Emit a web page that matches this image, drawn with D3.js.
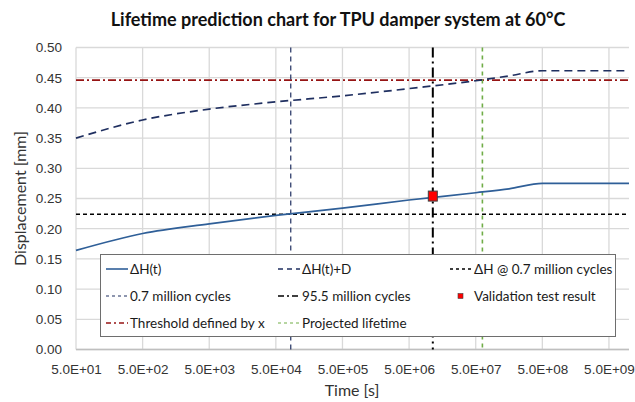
<!DOCTYPE html>
<html>
<head>
<meta charset="utf-8">
<script src="https://cdn.jsdelivr.net/npm/d3@7"></script>
<style>
  body { margin: 0; background: #fff; }
  svg { display: block; font-family: Lato, "Open Sans", sans-serif; }
</style>
</head>
<body>
<script>
// ---- data ----
const timeS      = [50, 500, 5000, 50000, 500000, 5e6, 5e7, 1.58e8, 5e8, 1e10];
const deltaH     = [0.164, 0.192, 0.208, 0.222, 0.234, 0.2475, 0.2595, 0.266, 0.2752, 0.2752];
const deltaHPlusD= [0.350, 0.380, 0.398, 0.410, 0.420, 0.432, 0.445, 0.453, 0.4615, 0.4615];
const dH07 = 0.224;          // ΔH @ 0.7 million cycles
const threshold = 0.446;     // threshold defined by x
const t07 = 83700;           // 0.7 million cycles [s]
const t955 = 1.135e7;        // 95.5 million cycles [s]
const tLife = 6.3e7;         // projected lifetime [s]
const validation = [{t: 1.135e7, v: 0.254}];
const xTicks = [5e1, 5e2, 5e3, 5e4, 5e5, 5e6, 5e7, 5e8, 5e9];
const yTicks = [0, 0.05, 0.10, 0.15, 0.20, 0.25, 0.30, 0.35, 0.40, 0.45, 0.50];

const W = 635, H = 402;
const m = {left: 76, right: 6, top: 47.5, bottom: 52.5};

const svg = d3.select('body').append('svg')
  .attr('width', W).attr('height', H);

const x = d3.scaleLog().domain([50, 1e10]).range([m.left, W - m.right]);
const y = d3.scaleLinear().domain([0, 0.5]).range([H - m.bottom, m.top]);

const fmtE = d => {
  const e = Math.floor(Math.log10(d) + 1e-9);
  const mant = d / Math.pow(10, e);
  return mant.toFixed(1) + 'E+' + String(e).padStart(2, '0');
};

// grid
svg.append('g').selectAll('line').data(yTicks).enter().append('line')
  .attr('x1', m.left).attr('x2', W - m.right)
  .attr('y1', d => y(d)).attr('y2', d => y(d))
  .attr('stroke', '#d9d9d9').attr('stroke-width', 1.3);
svg.append('g').selectAll('line').data(xTicks).enter().append('line')
  .attr('x1', d => x(d)).attr('x2', d => x(d))
  .attr('y1', m.top).attr('y2', H - m.bottom)
  .attr('stroke', '#d9d9d9').attr('stroke-width', 1.3);
svg.append('line')
  .attr('x1', m.left).attr('x2', W - m.right)
  .attr('y1', y(0)).attr('y2', y(0))
  .attr('stroke', '#bfbfbf').attr('stroke-width', 1.3);

// axes
const yAxis = d3.axisLeft(y).tickValues(yTicks).tickFormat(d3.format('.2f')).tickSize(0).tickPadding(14);
const gy = svg.append('g').attr('transform', `translate(${m.left},0)`).call(yAxis);
gy.select('.domain').remove();
gy.selectAll('text').style('font-size', '13.5px').attr('fill', '#333');

const xAxis = d3.axisBottom(x).tickValues(xTicks).tickFormat(fmtE).tickSize(0).tickPadding(15);
const gx = svg.append('g').attr('transform', `translate(0,${y(0)})`).call(xAxis);
gx.select('.domain').remove();
gx.selectAll('text').style('font-size', '13.5px').attr('fill', '#333');

// reference lines
const hLine = (v, color, dash, w) => svg.append('line')
  .attr('x1', m.left).attr('x2', W - m.right)
  .attr('y1', y(v)).attr('y2', y(v))
  .attr('stroke', color).attr('stroke-width', w).attr('stroke-dasharray', dash);
const vLine = (t, color, dash, w) => svg.append('line')
  .attr('x1', x(t)).attr('x2', x(t))
  .attr('y1', m.top).attr('y2', y(0))
  .attr('stroke', color).attr('stroke-width', w).attr('stroke-dasharray', dash);

hLine(dH07, '#000', '4,3', 1.5);
hLine(threshold, '#961414', '8,3,2,3', 1.6);
vLine(t07, '#1f2f60', '5,4', 1.2);
vLine(tLife, '#70ad47', '4,4', 1.6);

// curves
const line = d3.line().x(d => x(d[0])).y(d => y(d[1])).curve(d3.curveMonotoneX);
svg.append('path').datum(timeS.map((t, i) => [t, deltaHPlusD[i]]))
  .attr('d', line).attr('fill', 'none')
  .attr('stroke', '#1f2f60').attr('stroke-width', 1.7).attr('stroke-dasharray', '8,5');
svg.append('path').datum(timeS.map((t, i) => [t, deltaH[i]]))
  .attr('d', line).attr('fill', 'none')
  .attr('stroke', '#2f5f98').attr('stroke-width', 1.7);

vLine(t955, '#000', '10,4,2,4', 2);

svg.selectAll('.val').data(validation).enter().append('rect')
  .attr('class', 'val')
  .attr('x', d => x(d.t) - 4.5).attr('y', d => y(d.v) - 5)
  .attr('width', 9).attr('height', 10)
  .attr('fill', '#ff0000').attr('stroke', '#404040').attr('stroke-width', 1);

// legend
const legend = svg.append('g');
legend.append('rect')
  .attr('x', 100.5).attr('y', 254.5).attr('width', 515).attr('height', 82)
  .attr('fill', '#fff').attr('stroke', '#6e6e6e').attr('stroke-width', 1);

const items = [
  {label: 'ΔH(t)', col: 0, row: 0, color: '#2f5f98', dash: null, w: 1.6},
  {label: 'ΔH(t)+D', col: 1, row: 0, color: '#1f2f60', dash: '5,4', w: 1.6},
  {label: 'ΔH @ 0.7 million cycles', col: 2, row: 0, color: '#000', dash: '3,3', w: 1.3},
  {label: '0.7 million cycles', col: 0, row: 1, color: '#1f2f60', dash: '3,3', w: 1.2},
  {label: '95.5 million cycles', col: 1, row: 1, color: '#000', dash: '6,3,2,3', w: 1.3},
  {label: 'Validation test result', col: 2, row: 1, marker: true},
  {label: 'Threshold defined by x', col: 0, row: 2, color: '#961414', dash: '5,3,2,3', w: 1.3},
  {label: 'Projected lifetime', col: 1, row: 2, color: '#70ad47', dash: '3,3', w: 1.2}
];
const colX = [106, 278, 450];
const rowY = [269, 296, 323];
items.forEach(it => {
  const sx = colX[it.col], sy = rowY[it.row];
  if (it.marker) {
    legend.append('rect').attr('x', sx + 8).attr('y', sy - 2.5).attr('width', 5).attr('height', 5)
      .attr('fill', '#ff0000').attr('stroke', '#404040').attr('stroke-width', 0.6);
  } else {
    legend.append('line').attr('x1', sx).attr('x2', sx + 22).attr('y1', sy).attr('y2', sy)
      .attr('stroke', it.color).attr('stroke-width', it.w)
      .attr('stroke-dasharray', it.dash);
  }
  legend.append('text').attr('x', sx + 24).attr('y', sy).attr('dy', '0.35em')
    .style('font-size', '13.5px').attr('fill', '#1a1a1a').text(it.label);
});

// titles
svg.append('text').attr('x', 338).attr('y', 26).attr('text-anchor', 'middle')
  .style('font-size', '18px').style('font-weight', 'bold').attr('fill', '#111')
  .text('Lifetime prediction chart for TPU damper system at 60°C');
svg.append('text').attr('x', 352).attr('y', 396).attr('text-anchor', 'middle')
  .style('font-size', '16px').attr('fill', '#333').text('Time [s]');
svg.append('text').attr('transform', `translate(26,${(m.top + y(0)) / 2}) rotate(-90)`)
  .attr('text-anchor', 'middle')
  .style('font-size', '16px').attr('fill', '#333').text('Displacement [mm]');
</script>
</body>
</html>
